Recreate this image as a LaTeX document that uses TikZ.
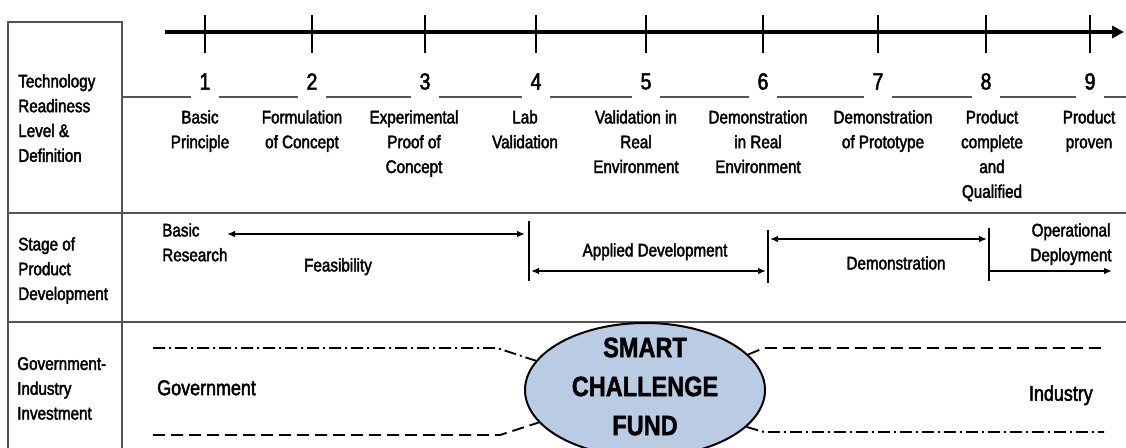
\documentclass[tikz,border=0pt]{standalone}
\usepackage{fontspec}
\setmainfont{Liberation Sans}
\newfontfamily\nar[FakeStretch=0.84,FakeBold=2.2]{Liberation Sans}
\newfontfamily\narb[FakeStretch=0.84,FakeBold=1.5]{Liberation Sans Bold}
\usetikzlibrary{arrows.meta,shapes.geometric}
\definecolor{fundblue}{HTML}{BACCE3}
\definecolor{gridgray}{HTML}{555555}
\begin{document}
\begin{tikzpicture}[x=0.75pt,y=-0.75pt,
  txt/.style={font=\nar\fontsize{13.6}{18.6}\selectfont, inner sep=0pt, text=black},
  deftxt/.style={txt, align=center, anchor=north},
  lbl/.style={txt, align=left, anchor=north west},
  num/.style={font=\nar\fontsize{17.5}{20}\selectfont, inner sep=0pt, minimum width=21pt},
  bigtxt/.style={font=\nar\fontsize{16}{19}\selectfont, inner sep=0pt},
  grid/.style={draw=gridgray, line width=1.1pt},
  thinline/.style={draw=gridgray, line width=0.9pt},
  tickline/.style={line width=1.3pt},
  bar/.style={line width=1.2pt},
  stagearrow/.style={line width=1.4pt, {Latex[length=6pt,width=5pt]}-{Latex[length=6pt,width=5pt]}},
  onearrow/.style={line width=1.4pt, -{Latex[length=6pt,width=5pt]}},
  dashline/.style={line width=1.4pt, dash pattern=on 9pt off 4.5pt},
  dashdotline/.style={line width=1.4pt, dash pattern=on 9pt off 3pt on 1.5pt off 3pt},
]
\useasboundingbox (0,0) rectangle (1126,448);
\fill[white] (0,0) rectangle (1126,448);

% table frame
\draw[grid] (8,448) -- (8,22) -- (122,22) -- (122,448);
\draw[grid] (8,213) -- (1126,213);
\draw[grid] (8,322) -- (1126,322);

% TRL axis
\coordinate (axs) at (165,32);
\coordinate (axe) at (1124,32);
\draw[line width=3pt, -{Triangle[length=9pt,width=9pt]}] (axs) -- (axe);
\foreach \x/\n in {205/1,312/2,425/3,536/4,646/5,763/6,878/7,986/8,1090/9}{
  \draw[tickline] (\x,15) -- (\x,53);
  \node[num] (n\n) at (\x,81.5) {\n};
}
\coordinate (hl) at (0,97);
\coordinate (hls) at (122,97);
\coordinate (hle) at (1126,97);
\draw[thinline] (hls) -- (n1.west |- hl);
\foreach \a/\b in {1/2,2/3,3/4,4/5,5/6,6/7,7/8,8/9}{
  \draw[thinline] (n\a.east |- hl) -- (n\b.west |- hl);
}
\draw[thinline] (n9.east |- hl) -- (hle);

% definitions
\node[deftxt] (d1) at (200,110) {Basic\\Principle};
\node[deftxt] (d2) at (302,110) {Formulation\\of Concept};
\node[deftxt] (d3) at (414,110) {Experimental\\Proof of\\Concept};
\node[deftxt] (d4) at (525,110) {Lab\\Validation};
\node[deftxt] (d5) at (636,110) {Validation in\\Real\\Environment};
\node[deftxt] (d6) at (758,110) {Demonstration\\in Real\\Environment};
\node[deftxt] (d7) at (883,110) {Demonstration\\of Prototype};
\node[deftxt] (d8) at (992,110) {Product\\complete\\and\\Qualified};
\node[deftxt] (d9) at (1089,110) {Product\\proven};

% row labels
\node[lbl] (l1) at (18,74) {Technology\\Readiness\\Level \&\\Definition};
\node[lbl] (l2) at (18,237) {Stage of\\Product\\Development};
\node[lbl] (l3) at (17,357) {Government-\\Industry\\Investment};

% stage row
\node[lbl] (br) at (162,223) {Basic\\Research};
\node[txt, anchor=north] (feas) at (338,258) {Feasibility};
\node[txt, anchor=north] (appl) at (655,243) {Applied Development};
\node[txt, anchor=north] (demo) at (896,256) {Demonstration};
\node[txt, align=center, anchor=north] (oper) at (1071,223) {Operational\\Deployment};

\coordinate (v1t) at (529,221); \coordinate (v1b) at (529,281);
\coordinate (v2t) at (768,230); \coordinate (v2b) at (768,283);
\coordinate (v3t) at (989,228); \coordinate (v3b) at (989,281);
\draw[bar] (v1t) -- (v1b);
\draw[bar] (v2t) -- (v2b);
\draw[bar] (v3t) -- (v3b);
\coordinate (a1s) at (227,234); \coordinate (a1e) at (525,234);
\coordinate (a2s) at (531,271); \coordinate (a2e) at (766,271);
\coordinate (a3s) at (770,239); \coordinate (a3e) at (987,239);
\coordinate (a4s) at (990,271); \coordinate (a4e) at (1112,271);
\draw[stagearrow] (a1s) -- (a1e);
\draw[stagearrow] (a2s) -- (a2e);
\draw[stagearrow] (a3s) -- (a3e);
\draw[onearrow] (a4s) -- (a4e);

% investment row
\node[ellipse, draw=black, line width=1.5pt, fill=fundblue, minimum width=180pt, minimum height=100.5pt, inner sep=0pt] (fund) at (645,390) {};
\node[font=\narb\fontsize{21}{29.25}\selectfont, align=center, inner sep=0pt] (fundtxt) at (645,386.5) {SMART\\CHALLENGE\\FUND};
\node[bigtxt, anchor=north west] (gov) at (157,380) {Government};
\node[bigtxt, anchor=north east] (ind) at (1093,385) {Industry};

\coordinate (gl1) at (153,348); \coordinate (gl2) at (497,348);
\coordinate (gb1) at (153,435); \coordinate (gb2) at (500,435);
\coordinate (ir1) at (764,348); \coordinate (ir2) at (1104,348);
\coordinate (ib1) at (764,432); \coordinate (ib2) at (1104,432);
\draw[dashdotline] (gl1) -- (gl2) -- (fund.165);
\draw[dashline] (gb1) -- (gb2) -- (fund.197);
\draw[dashline] (fund.19) -- (ir1) -- (ir2);
\draw[dashdotline] (fund.-20) -- (ib1) -- (ib2);
\end{tikzpicture}
\end{document}
